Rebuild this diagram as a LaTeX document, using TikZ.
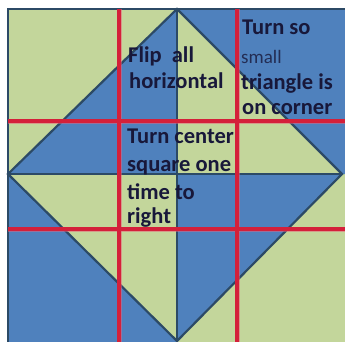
\documentclass[tikz,border=0pt]{standalone}
\usepackage{fontspec}
\setmainfont{Carlito}
\definecolor{qblue}{HTML}{4F81BD}
\definecolor{qgreen}{HTML}{C3D69B}
\definecolor{qline}{HTML}{2C4A66}
\definecolor{qred}{HTML}{D4203A}
\definecolor{qhalo}{HTML}{E8607A}
\definecolor{qtext}{HTML}{18183A}
\tikzset{
  bluepatch/.style={fill=qblue},
  greenpatch/.style={fill=qgreen},
  seam/.style={draw=qline,line width=2.2pt,line join=miter},
  redhalo/.style={draw=qhalo,line width=5pt,opacity=0.5},
  redline/.style={draw=qred,line width=3.4pt},
  lbl/.style={inner sep=0pt,anchor=base west,text=qtext,font=\bfseries\fontsize{22.5}{26}\selectfont},
  lblsmall/.style={inner sep=0pt,anchor=base west,text=qtext!80!qblue,font=\fontsize{19}{22}\selectfont}
}
\begin{document}
\begin{tikzpicture}[x=1pt,y=-1pt]
\useasboundingbox (0,0) rectangle (345,341);
\fill[white] (0,0) rectangle (345,341);
\begin{scope}
\clip (0,0) rectangle (345,341);
% corners
\coordinate (N) at (177,9);
\coordinate (W) at (8,174);
\coordinate (E) at (342,174);
\coordinate (S) at (177,341);
\coordinate (C) at (177,174);
\coordinate (TL) at (8,9);
\coordinate (TR) at (350,9);
\coordinate (BL) at (8,345);
\coordinate (BR) at (350,345);
\fill[greenpatch] (TL) rectangle (BR);
\fill[bluepatch] (N) -- (TR) -- (350,174) -- (E) -- cycle;
\fill[bluepatch] (W) -- (BL) -- (177,345) -- (S) -- cycle;
\fill[bluepatch] (N) -- (W) -- (C) -- cycle;
\fill[bluepatch] (C) -- (E) -- (S) -- cycle;
% seams
\draw[seam] (BL) -- (TL) -- (TR);
\draw[seam] (N) -- (W) -- (S) -- (E) -- cycle;
\draw[seam] (N) -- (S);
\draw[seam] (W) -- (E);
% texts
\node[lbl] (t1) at (128,62) {Flip\ \ all};
\node[lbl] (t2) at (129,88) {horizontal};
\node[lbl] (t3) at (242,34) {Turn so};
\node[lblsmall] (t4) at (241,63) {small};
\node[lbl] (t5) at (241,89) {triangle is};
\node[lbl] (t6) at (242,114) {on corner};
\node[lbl] (t7) at (127,143) {Turn center};
\node[lbl] (t8) at (127,171) {square one};
\node[lbl] (t9) at (127,199) {time to};
\node[lbl] (t10) at (127,223) {right};
% red grid
\coordinate (v1t) at (119,9);
\coordinate (v1b) at (119,345);
\coordinate (v2t) at (237,9);
\coordinate (v2b) at (237,345);
\coordinate (h1l) at (8,121);
\coordinate (h1r) at (350,121);
\coordinate (h2l) at (8,229);
\coordinate (h2r) at (350,229);
\foreach \a/\b in {v1t/v1b,v2t/v2b,h1l/h1r,h2l/h2r}{
  \draw[redhalo] (\a) -- (\b);
}
\foreach \a/\b in {v1t/v1b,v2t/v2b,h1l/h1r,h2l/h2r}{
  \draw[redline] (\a) -- (\b);
}
\end{scope}
\end{tikzpicture}
\end{document}
